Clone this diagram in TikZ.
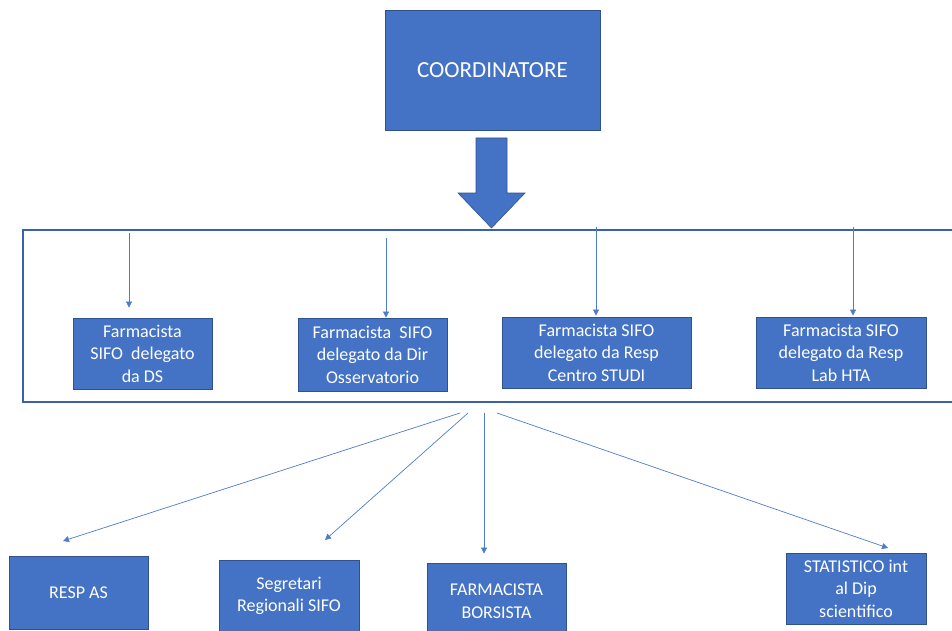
\documentclass[tikz,border=0pt]{standalone}
\usepackage{fontspec}
\setmainfont{Carlito}
\usetikzlibrary{arrows.meta}
\definecolor{boxblue}{HTML}{4472C4}
\definecolor{boxedge}{HTML}{2F528F}
\definecolor{frameblue}{HTML}{3A62AC}
\definecolor{linkblue}{HTML}{4F7BCB}
\tikzset{
  orgbox/.style={draw=boxedge, line width=0.8pt, fill=boxblue, text=white,
    align=center, inner sep=0pt, font=\fontsize{18}{22.5}\selectfont},
  link/.style={draw=linkblue, line width=0.7pt, -{Triangle[length=6pt,width=6pt]}},
}

\begin{document}
\begin{tikzpicture}[x=1pt,y=-1pt]
\useasboundingbox (0,0) rectangle (952,631);
% coordinator and the big arrow
\node[orgbox, minimum width=215, minimum height=120, font=\fontsize{23}{27}\selectfont] (coord) at (492.5,70) {COORDINATORE};
\filldraw[fill=boxblue, draw=boxedge, line width=0.6pt] (476,138) -- (507,138) -- (507,193) -- (525,193) -- (491.5,228) -- (458,193) -- (476,193) -- cycle;

% delegates group
\node[draw=frameblue, line width=1.3pt, minimum width=931, minimum height=172, inner sep=0pt] (group) at (488.5,316) {};
\node[orgbox, minimum width=139, minimum height=71] (ds) at (142.5,353.5) {Farmacista\\SIFO\ \ delegato\\da DS};
\node[orgbox, minimum width=149, minimum height=73] (oss) at (372.5,354.5) {Farmacista\ \ SIFO\\delegato da Dir\\Osservatorio};
\node[orgbox, minimum width=189, minimum height=71] (studi) at (596.5,352.5) {Farmacista SIFO\\delegato da Resp\\Centro STUDI};
\node[orgbox, minimum width=170, minimum height=71] (hta) at (841,352.5) {Farmacista SIFO\\delegato da Resp\\Lab HTA};

\coordinate (s1) at (129,233);
\coordinate (s2) at (386,238);
\coordinate (s3) at (596,227);
\coordinate (s4) at (853,227);
\draw[link] (s1) -- ([yshift=10pt]s1 |- ds.north);
\draw[link] (s2) -- (s2 |- oss.north);
\draw[link] (s3) -- ([yshift=1pt]s3 |- studi.north);
\draw[link] (s4) -- ([yshift=1pt]s4 |- hta.north);

% staff below
\node[orgbox, minimum width=139, minimum height=73] (resp) at (78.5,592.5) {RESP AS};
\node[orgbox, minimum width=140, minimum height=72] (segr) at (289,596) {Segretari\\Regionali SIFO};
\node[orgbox, minimum width=139, minimum height=76] (bors) at (496.5,601) {FARMACISTA\\BORSISTA};
\node[orgbox, minimum width=140, minimum height=71] (stat) at (856,588.5) {STATISTICO int\\al Dip\\scientifico};

\coordinate (r1) at (460,413);
\coordinate (r2) at (468,413);
\coordinate (r3) at (484,413);
\coordinate (r4) at (497,413);
\coordinate (t1) at (63,541);
\coordinate (t2) at (325,540);
\coordinate (t4) at (888,548);
\draw[link] (r1) -- (t1);
\draw[link] (r2) -- (t2);
\draw[link] (r3) -- ([yshift=9pt]r3 |- bors.north);
\draw[link] (r4) -- (t4);
\end{tikzpicture}
\end{document}
